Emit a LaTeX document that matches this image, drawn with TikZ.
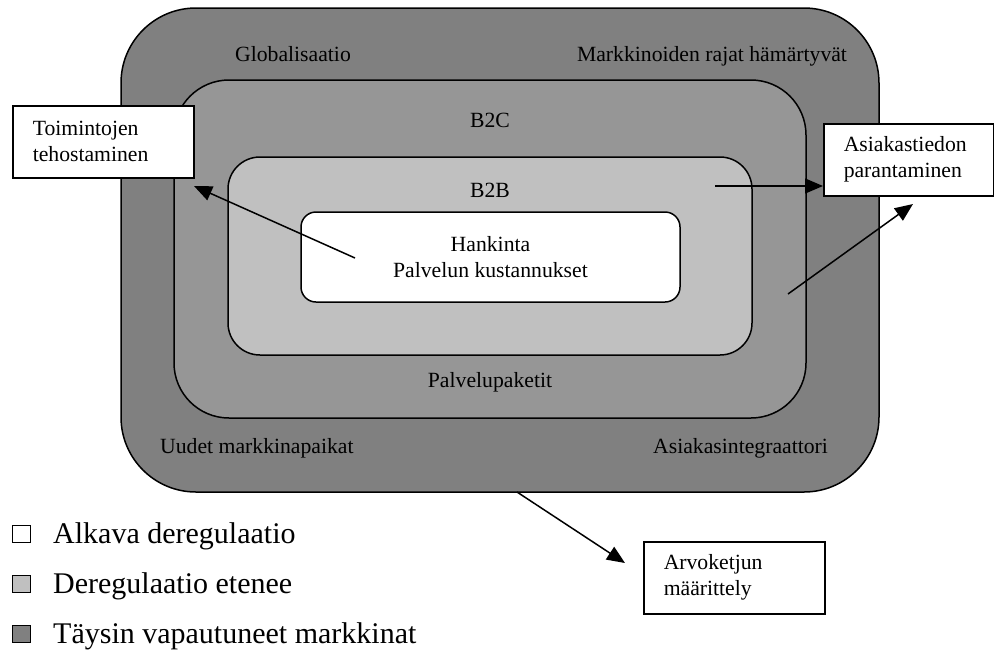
\documentclass[tikz,border=0pt]{standalone}
\usepackage{fontspec}
\setmainfont{Liberation Serif}
\usetikzlibrary{arrows.meta}
\definecolor{zoneouter}{RGB}{128,128,128}
\definecolor{zonemid}{RGB}{150,150,150}
\definecolor{zoneinner}{RGB}{192,192,192}
\begin{document}
\begin{tikzpicture}[x=1pt,y=-1pt,
  zone/.style={draw=black, line width=1.5pt},
  lbl/.style={font=\fontsize{21.7}{26}\selectfont, inner sep=0pt},
  notebox/.style={draw=black, fill=white, line width=1.5pt,
    font=\fontsize{21.7}{26}\selectfont, align=left,
    inner xsep=20pt, inner ysep=0pt, minimum height=72pt, anchor=north west},
  legbox/.style={draw=black, line width=1.2pt, minimum width=18pt,
    minimum height=17pt, inner sep=0pt, anchor=south west},
  legtxt/.style={font=\fontsize{30}{36}\selectfont, inner sep=0pt, anchor=base west},
  arr/.style={line width=1.5pt, -{Triangle[length=18pt,width=15pt]}}]
\useasboundingbox (0,0) rectangle (994,649);

% nested market zones
\draw[zone, fill=zoneouter, rounded corners=75pt] (121,8) rectangle (879,492);
\draw[zone, fill=zonemid, rounded corners=55pt] (174,80) rectangle (806,418);
\draw[zone, fill=zoneinner, rounded corners=32pt] (228,157) rectangle (752,355);
\node[zone, fill=white, rounded corners=15pt, minimum width=379pt,
  minimum height=90pt, inner sep=0pt, align=center,
  font=\fontsize{21.7}{26}\selectfont] (core) at (490.5,257)
  {Hankinta\\Palvelun kustannukset};

% zone labels
\node[lbl, anchor=base] (glob) at (293,61) {Globalisaatio};
\node[lbl, anchor=base] (rajat) at (712,61) {Markkinoiden rajat hämärtyvät};
\node[lbl, anchor=base] (b2c) at (490,127) {B2C};
\node[lbl, anchor=base] (b2b) at (490,197) {B2B};
\node[lbl, anchor=base] (paketit) at (490,387) {Palvelupaketit};
\node[lbl, anchor=base west] (uudet) at (160,453) {Uudet markkinapaikat};
\node[lbl, anchor=base west] (integ) at (653,453) {Asiakasintegraattori};

% note boxes
\node[notebox, text width=141pt] (toim) at (12,105) {Toimintojen\\tehostaminen};
\node[notebox, text width=130pt] (asiak) at (823,123) {Asiakastiedon\\parantaminen};
\node[notebox, text width=141pt] (arvo) at (643,541) {Arvoketjun\\määrittely};

% arrows
\coordinate (a1s) at (355,258);
\coordinate (a1e) at (194,186);
\draw[arr] (a1s) -- (a1e);
\coordinate (a2s) at (715,186);
\draw[arr] (a2s) -- (asiak.west |- a2s);
\coordinate (a3s) at (788,294);
\coordinate (a3e) at (913,204);
\draw[arr] (a3s) -- (a3e);
\coordinate (a4s) at (517,492);
\coordinate (a4e) at (625,563);
\draw[arr] (a4s) -- (a4e);

% legend
\node[legbox, fill=white] (sq1) at (12,543) {};
\node[legtxt] (l1) at (53,543) {Alkava deregulaatio};
\node[legbox, fill=zoneinner] (sq2) at (12,593) {};
\node[legtxt] (l2) at (53,593) {Deregulaatio etenee};
\node[legbox, fill=zoneouter] (sq3) at (12,643) {};
\node[legtxt] (l3) at (53,643) {Täysin vapautuneet markkinat};
\end{tikzpicture}
\end{document}
